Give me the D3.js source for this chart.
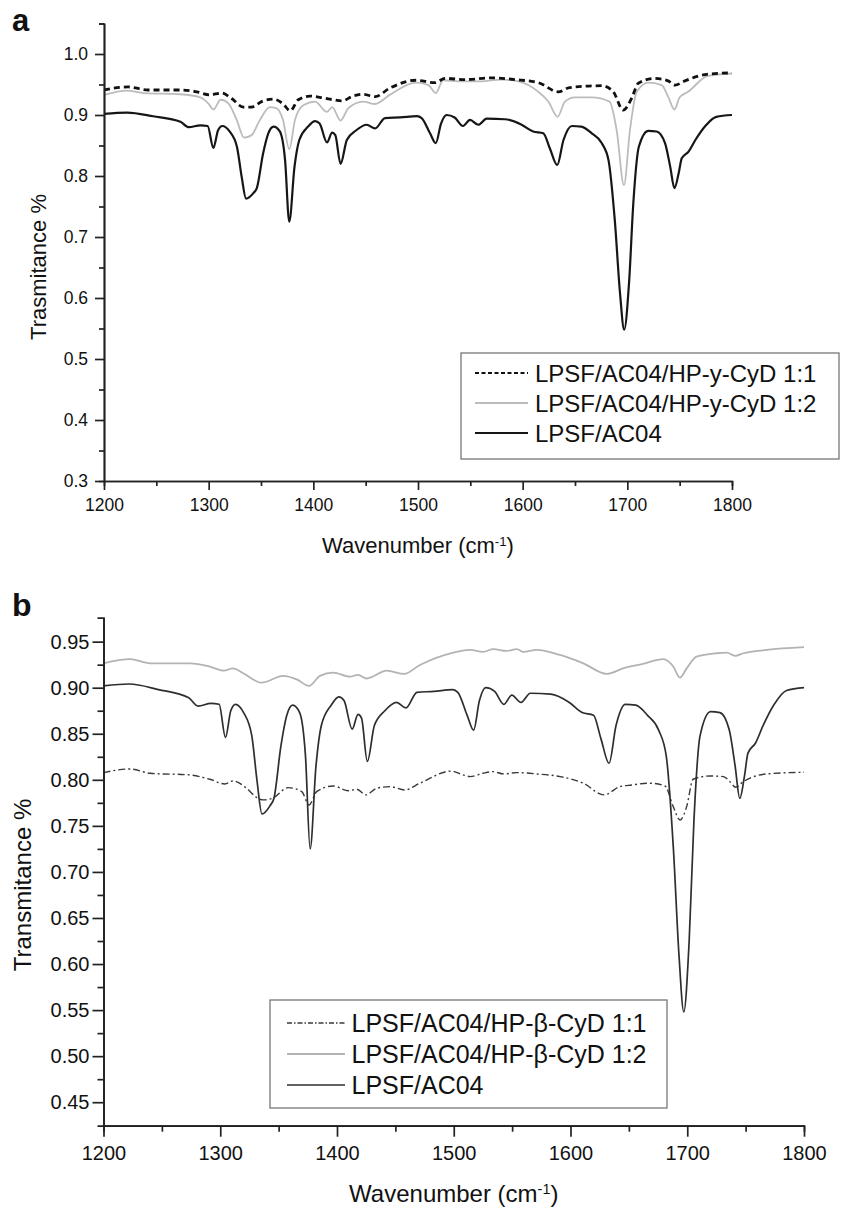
<!DOCTYPE html>
<html>
<head>
<meta charset="utf-8">
<script src="https://cdn.jsdelivr.net/npm/d3@7"></script>
<style>
  body { margin: 0; background: #fff; }
  text { font-family: "Liberation Sans", Arial, sans-serif; fill: #111; }
</style>
</head>
<body>
<div id="wrapper"></div>
<script>
/*step 1: data (wavenumber, transmittance)*/
const ac04 = [[1200,0.902],[1222,0.904],[1247,0.898],[1273,0.889],[1281,0.880],[1292,0.883],[1299,0.882],[1304.5,0.846],[1309,0.875],[1313,0.882],[1320,0.873],[1327,0.848],[1331.5,0.799],[1335.7,0.763],[1342.7,0.772],[1346,0.780],[1352,0.837],[1357,0.870],[1362,0.881],[1368,0.873],[1373,0.826],[1377,0.725],[1382,0.815],[1386.6,0.859],[1395,0.881],[1401.6,0.890],[1406,0.886],[1413,0.855],[1418,0.871],[1421,0.867],[1426,0.820],[1432,0.859],[1441,0.875],[1451,0.884],[1459,0.878],[1468.5,0.895],[1483,0.896],[1499,0.898],[1503.5,0.895],[1511.5,0.870],[1517,0.854],[1522,0.886],[1527.4,0.900],[1535,0.896],[1543,0.882],[1549.7,0.892],[1557.6,0.884],[1565.6,0.894],[1583,0.893],[1599,0.884],[1610,0.873],[1619.7,0.870],[1626,0.845],[1633,0.818],[1639,0.859],[1647,0.882],[1656,0.881],[1666,0.870],[1675.5,0.854],[1682,0.826],[1688,0.728],[1693,0.608],[1697,0.548],[1701.6,0.624],[1705.7,0.755],[1711,0.848],[1720,0.874],[1728,0.873],[1736,0.854],[1741,0.815],[1745,0.780],[1749,0.804],[1752,0.829],[1758.5,0.840],[1765,0.859],[1774.5,0.882],[1785,0.897],[1800,0.900]];

const gamma12 = [[1200,0.933],[1222,0.940],[1238,0.936],[1273,0.934],[1292,0.929],[1299.6,0.919],[1304.5,0.909],[1311.5,0.925],[1318.8,0.919],[1326.8,0.892],[1333.8,0.863],[1341,0.867],[1349,0.892],[1358.6,0.913],[1365,0.911],[1371,0.892],[1377,0.844],[1382.5,0.892],[1390.4,0.916],[1401.6,0.922],[1413,0.905],[1418,0.913],[1426,0.891],[1433.4,0.911],[1447.7,0.922],[1459,0.918],[1473,0.933],[1498,0.953],[1510,0.949],[1517,0.936],[1524,0.957],[1542,0.955],[1556,0.955],[1580,0.958],[1596,0.955],[1615,0.938],[1624.5,0.922],[1633.4,0.897],[1640.4,0.922],[1650,0.929],[1666,0.929],[1683,0.922],[1689.8,0.875],[1696.8,0.785],[1702.5,0.875],[1709,0.938],[1720,0.953],[1732.8,0.949],[1739,0.930],[1745,0.909],[1750,0.929],[1758,0.938],[1777,0.964],[1800,0.968]];

const gamma11 = [[1200,0.941],[1223,0.946],[1242,0.941],[1273,0.941],[1288.6,0.938],[1301,0.933],[1312.4,0.936],[1322,0.927],[1333,0.913],[1341,0.913],[1350.6,0.922],[1361.7,0.926],[1370.6,0.919],[1378,0.907],[1385.6,0.925],[1396.8,0.931],[1406,0.929],[1419,0.925],[1427,0.923],[1438,0.931],[1447.7,0.934],[1459,0.930],[1473,0.944],[1498,0.957],[1516,0.953],[1526,0.960],[1545,0.958],[1570,0.961],[1592.7,0.958],[1615,0.953],[1634,0.938],[1645,0.945],[1675.5,0.948],[1686.6,0.938],[1696,0.908],[1704,0.927],[1710.5,0.952],[1726,0.960],[1739,0.956],[1745.5,0.949],[1755,0.956],[1777,0.967],[1800,0.969]];

const beta12 = [[1200,0.9265],[1222.7,0.931],[1240,0.9265],[1274,0.9265],[1291,0.923],[1303,0.9185],[1311,0.921],[1319.7,0.9157],[1335.5,0.9055],[1354,0.9128],[1365.5,0.909],[1376,0.902],[1385.4,0.9128],[1396.8,0.9164],[1411,0.912],[1418,0.914],[1425.4,0.910],[1442.6,0.9185],[1457.4,0.915],[1471,0.9247],[1498,0.9376],[1514,0.941],[1525,0.939],[1534,0.9418],[1545,0.940],[1554,0.9418],[1559.6,0.9388],[1571,0.941],[1591,0.9356],[1611,0.9265],[1631,0.915],[1645,0.921],[1662,0.9258],[1679.5,0.931],[1688,0.923],[1693.8,0.911],[1699.5,0.921],[1708,0.9337],[1725,0.9374],[1733.8,0.938],[1741,0.9345],[1748,0.9374],[1768,0.941],[1800,0.944]];

const beta11 = [[1200,0.8078],[1222.7,0.8118],[1240,0.8071],[1274,0.8053],[1291,0.8006],[1304,0.7955],[1311,0.7988],[1322.6,0.7908],[1331,0.781],[1337,0.7782],[1345,0.780],[1358,0.7915],[1369.8,0.7872],[1376,0.7727],[1382.6,0.7872],[1396.8,0.7933],[1409.7,0.7882],[1417,0.7898],[1424.6,0.7836],[1434,0.7908],[1445.4,0.7926],[1458,0.789],[1471,0.7963],[1498,0.8095],[1508,0.8053],[1514,0.8035],[1525,0.8071],[1534,0.8089],[1542.4,0.8064],[1554,0.8078],[1571,0.8064],[1591,0.8035],[1611,0.7963],[1628.7,0.7836],[1642.4,0.7926],[1652.4,0.7944],[1668,0.7963],[1681,0.7933],[1688,0.7709],[1693.8,0.7564],[1699.5,0.7709],[1705,0.8006],[1719.5,0.8042],[1731,0.8035],[1736.6,0.798],[1741.5,0.792],[1748,0.798],[1768,0.8064],[1800,0.8082]];

const xTicks = [1200, 1300, 1400, 1500, 1600, 1700, 1800];
const xMinor = [1250, 1350, 1450, 1550, 1650, 1750];
const yTicksA = [0.3, 0.4, 0.5, 0.6, 0.7, 0.8, 0.9, 1.0];
const yTicksB = [0.45, 0.50, 0.55, 0.60, 0.65, 0.70, 0.75, 0.80, 0.85, 0.90, 0.95];
const legendA = ["LPSF/AC04/HP-y-CyD 1:1", "LPSF/AC04/HP-y-CyD 1:2", "LPSF/AC04"];
const legendB = ["LPSF/AC04/HP-\u03B2-CyD 1:1", "LPSF/AC04/HP-\u03B2-CyD 1:2", "LPSF/AC04"];

/*step 2: canvas*/
const svg = d3.select("#wrapper")
  .append("svg")
  .attr("width", 841)
  .attr("height", 1209);

/*step 3: one function per panel, positions passed in*/
function drawPanel(p) {
  const xScale = d3.scaleLinear().domain([1200, 1800]).range([p.left, p.right]);
  const yScale = d3.scaleLinear().domain(p.yDomain).range([p.bottom, p.top]);
  const g = svg.append("g");

  const line = d3.line()
    .x(d => xScale(d[0]))
    .y(d => yScale(d[1]))
    .curve(d3.curveMonotoneX);

  p.series.forEach(s => {
    g.append("path")
      .datum(s.data)
      .attr("d", line)
      .attr("fill", "none")
      .attr("stroke", s.color)
      .attr("stroke-width", s.width)
      .attr("stroke-dasharray", s.dash || null)
      .attr("stroke-linejoin", "round");
  });

  // minor ticks first so major ones sit on top
  g.append("g")
    .attr("transform", `translate(0,${p.bottom})`)
    .call(d3.axisBottom(xScale).tickValues(xMinor).tickSize(p.minorLen).tickFormat(""));
  g.append("g")
    .attr("transform", `translate(${p.left},0)`)
    .call(d3.axisLeft(yScale).tickValues(p.yMinor).tickSize(p.minorLen).tickFormat(""));

  const xAxis = g.append("g")
    .attr("transform", `translate(0,${p.bottom})`)
    .call(d3.axisBottom(xScale).tickValues(xTicks).tickSize(p.majorLen)
      .tickSizeOuter(0).tickPadding(p.xPad).tickFormat(d3.format("d")));
  const yAxis = g.append("g")
    .attr("transform", `translate(${p.left},0)`)
    .call(d3.axisLeft(yScale).tickValues(p.yTicks).tickSize(p.majorLen)
      .tickSizeOuter(0).tickPadding(p.yPad).tickFormat(d3.format(p.yFormat)));

  g.selectAll(".tick line, .domain")
    .attr("stroke", "#222")
    .attr("stroke-width", 1.7);
  g.selectAll(".tick text")
    .attr("fill", "#111")
    .style("font-family", "'Liberation Sans', Arial, sans-serif")
    .style("font-size", p.tickFont + "px");

  // axis titles
  const xt = g.append("text")
    .attr("x", (p.left + p.right) / 2)
    .attr("y", p.xTitleY)
    .attr("text-anchor", "middle")
    .style("font-size", p.titleFont + "px");
  xt.append("tspan").text("Wavenumber (cm");
  xt.append("tspan").attr("dy", "-0.55em").style("font-size", "0.6em").text("-1");
  xt.append("tspan").attr("dy", "0.33em").text(")");

  g.append("text")
    .attr("transform", `translate(${p.yTitleX},${p.yTitleC}) rotate(-90)`)
    .attr("text-anchor", "middle")
    .style("font-size", p.titleFont + "px")
    .text(p.yTitle);

  g.append("text")
    .attr("x", 12)
    .attr("y", p.letterY)
    .style("font-size", p.letterFont + "px")
    .style("font-weight", "bold")
    .text(p.letter);

  /*legend*/
  const lg = p.legend;
  g.append("rect")
    .attr("x", lg.x).attr("y", lg.y)
    .attr("width", lg.w).attr("height", lg.h)
    .attr("fill", "#fff")
    .attr("stroke", "#777")
    .attr("stroke-width", 1.3);
  p.legendOrder.forEach((s, i) => {
    const cy = lg.y + lg.first + i * lg.step;
    g.append("line")
      .attr("x1", lg.x1).attr("x2", lg.x2)
      .attr("y1", cy).attr("y2", cy)
      .attr("stroke", s.color)
      .attr("stroke-width", s.legendWidth || s.width)
      .attr("stroke-dasharray", s.legendDash || null);
    g.append("text")
      .attr("x", lg.tx)
      .attr("y", cy + lg.font * 0.36)
      .style("font-size", lg.font + "px")
      .text(p.labels[i]);
  });
}

/*panel a*/
const aSolid = { data: ac04, color: "#161616", width: 2.2 };
const aGray = { data: gamma12, color: "#bcbcbc", width: 1.8 };
const aDash = { data: gamma11, color: "#111", width: 2.8, dash: "6,4", legendWidth: 2, legendDash: "4,2.5" };
drawPanel({
  left: 104, right: 732, top: 23.5, bottom: 481,
  yDomain: [0.3, 1.05], yTicks: yTicksA,
  yMinor: [0.35, 0.45, 0.55, 0.65, 0.75, 0.85, 0.95, 1.05],
  yFormat: ".1f", majorLen: 9, minorLen: 5, xPad: 9, yPad: 7,
  tickFont: 17.5, titleFont: 22,
  xTitleY: 553, yTitle: "Trasmitance %", yTitleX: 46, yTitleC: 267,
  letter: "a", letterY: 31, letterFont: 31,
  series: [aGray, aDash, aSolid],
  legendOrder: [aDash, aGray, aSolid], labels: legendA,
  legend: { x: 461, y: 353, w: 378, h: 106, first: 20, step: 30, x1: 475, x2: 528, tx: 535, font: 24 }
});

/*panel b*/
const bSolid = { data: ac04, color: "#2e2e2e", width: 1.7 };
const bGray = { data: beta12, color: "#b3b3b3", width: 1.8 };
const bDash = { data: beta11, color: "#3a3a3a", width: 1.4, dash: "7,3,2,3", legendDash: "5,2,1.5,2" };
drawPanel({
  left: 103.5, right: 804, top: 617.7, bottom: 1125.7,
  yDomain: [0.4245, 0.976], yTicks: yTicksB,
  yMinor: d3.range(0.475, 0.975, 0.05),
  yFormat: ".2f", majorLen: 11, minorLen: 6, xPad: 9, yPad: 3,
  tickFont: 20, titleFont: 24,
  xTitleY: 1202, yTitle: "Transmitance %", yTitleX: 31, yTitleC: 885,
  letter: "b", letterY: 616, letterFont: 32,
  series: [bGray, bDash, bSolid],
  legendOrder: [bDash, bGray, bSolid], labels: legendB,
  legend: { x: 270, y: 1000, w: 397, h: 108, first: 23, step: 31, x1: 287, x2: 345, tx: 351.5, font: 25 }
});
</script>
</body>
</html>
